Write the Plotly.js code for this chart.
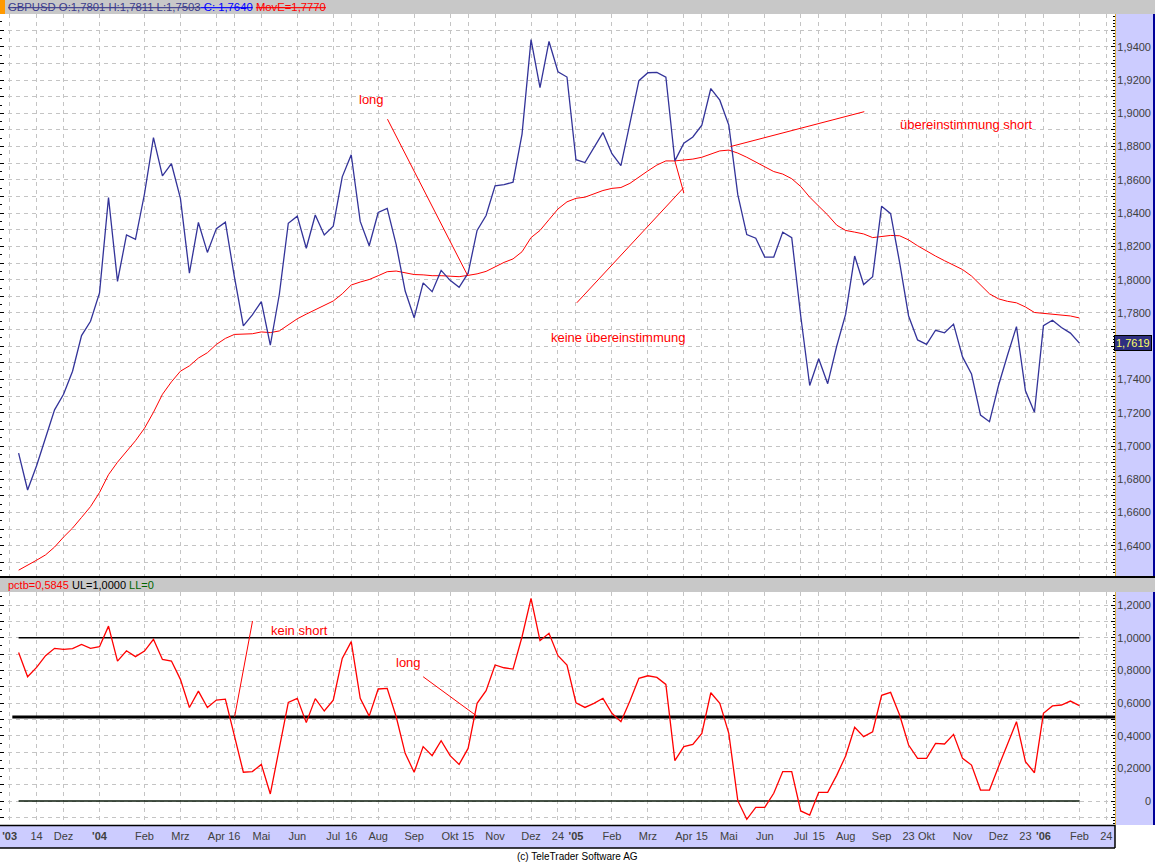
<!DOCTYPE html>
<html><head><meta charset="utf-8">
<script src="https://cdn.plot.ly/plotly-3.0.1.min.js"></script>
<style>html,body{margin:0;padding:0;background:#fff;}#chart{width:1155px;height:862px;}</style>
</head><body><div id="chart"></div>
<script>
// ---------- data ----------
const firstWeek = '2003-10-31';
const closeValues = [
1.6957,1.6736,1.6882,1.7053,1.7218,1.7311,1.7450,1.7664,1.7750,1.7921,
1.8494,1.7990,1.8269,1.8243,1.8515,1.8854,1.8624,1.8697,1.8489,1.8039,
1.8344,1.8164,1.8307,1.8346,1.8018,1.7722,1.7789,1.7868,1.7606,1.7911,
1.8339,1.8382,1.8189,1.8389,1.8269,1.8322,1.8618,1.8751,1.8350,1.8204,
1.8404,1.8429,1.8211,1.7932,1.7771,1.7981,1.7928,1.8056,1.7996,1.7954,
1.8039,1.8296,1.8386,1.8564,1.8571,1.8586,1.8875,1.9443,1.9154,1.9432,
1.9250,1.9218,1.8721,1.8704,1.8796,1.8884,1.8757,1.8686,1.8939,1.9196,
1.9244,1.9246,1.9218,1.8714,1.8821,1.8858,1.8929,1.9149,1.9079,1.8929,
1.8511,1.8271,1.8249,1.8136,1.8136,1.8286,1.8253,1.7782,1.7364,1.7525,
1.7375,1.7600,1.7793,1.8142,1.7971,1.8018,1.8442,1.8397,1.8104,1.7782,
1.7638,1.7611,1.7696,1.7681,1.7733,1.7536,1.7433,1.7186,1.7146,1.7364,
1.7546,1.7718,1.7332,1.7203,1.7724,1.7756,1.7713,1.7679,1.7619];
const movEValues = [
1.6254,1.6282,1.6314,1.6346,1.6393,1.6453,1.6507,1.6571,1.6636,1.6721,
1.6828,1.6903,1.6968,1.7032,1.7107,1.7203,1.7311,1.7386,1.7450,1.7482,
1.7529,1.7561,1.7611,1.7647,1.7671,1.7671,1.7675,1.7686,1.7682,1.7692,
1.7728,1.7765,1.7793,1.7821,1.7846,1.7872,1.7915,1.7968,1.7986,1.8001,
1.8024,1.8048,1.8052,1.8043,1.8031,1.8029,1.8024,1.8024,1.8022,1.8018,
1.8026,1.8035,1.8050,1.8078,1.8104,1.8125,1.8168,1.8253,1.8296,1.8361,
1.8425,1.8468,1.8489,1.8496,1.8517,1.8536,1.8549,1.8554,1.8579,1.8618,
1.8654,1.8689,1.8714,1.8714,1.8719,1.8725,1.8736,1.8757,1.8774,1.8779,
1.8761,1.8736,1.8708,1.8682,1.8650,1.8635,1.8607,1.8560,1.8496,1.8442,
1.8389,1.8328,1.8296,1.8286,1.8275,1.8253,1.8260,1.8266,1.8264,1.8239,
1.8204,1.8172,1.8142,1.8114,1.8089,1.8061,1.8022,1.7971,1.7915,1.7885,
1.7870,1.7861,1.7836,1.7803,1.7797,1.7791,1.7788,1.7782,1.7770];
const pctbValues = [
0.910,0.761,0.818,0.890,0.935,0.929,0.933,0.959,0.935,0.945,
1.071,0.857,0.920,0.884,0.918,0.990,0.867,0.857,0.745,0.573,
0.673,0.573,0.618,0.624,0.400,0.176,0.180,0.224,0.043,0.322,
0.604,0.629,0.480,0.627,0.551,0.618,0.873,0.976,0.629,0.520,
0.686,0.690,0.516,0.292,0.176,0.333,0.278,0.369,0.278,0.224,
0.322,0.598,0.676,0.833,0.816,0.808,1.006,1.241,0.982,1.027,
0.890,0.833,0.602,0.573,0.598,0.629,0.537,0.486,0.612,0.751,
0.767,0.757,0.714,0.247,0.333,0.347,0.414,0.663,0.598,0.414,
0.002,-0.112,-0.039,-0.039,0.047,0.180,0.180,-0.061,-0.086,0.053,
0.053,0.157,0.276,0.451,0.394,0.424,0.647,0.665,0.527,0.343,
0.261,0.261,0.353,0.349,0.408,0.261,0.220,0.067,0.067,0.210,
0.353,0.486,0.241,0.173,0.537,0.582,0.588,0.612,0.5845];
const upperLimit = 1.0;
const lowerLimit = 0;
const middleLine = 0.515;
const xTickDates = ['2003-10-24','2003-11-14','2003-12-05','2004-01-02','2004-02-06','2004-03-05','2004-04-02','2004-04-16',
 '2004-05-07','2004-06-04','2004-07-02','2004-07-16','2004-08-06','2004-09-03','2004-10-01','2004-10-15','2004-11-05',
 '2004-12-03','2004-12-24','2005-01-07','2005-02-04','2005-03-04','2005-04-01','2005-04-15','2005-05-06','2005-06-03',
 '2005-07-01','2005-07-15','2005-08-05','2005-09-02','2005-09-23','2005-10-07','2005-11-04','2005-12-02','2005-12-23',
 '2006-01-06','2006-02-03','2006-02-24'];
const xTickLabels = ["<b>'03</b>",'14','Dez',"<b>'04</b>",'Feb','Mrz','Apr','16','Mai','Jun','Jul','16','Aug','Sep','Okt','15','Nov',
 'Dez','24',"<b>'05</b>",'Feb','Mrz','Apr','15','Mai','Jun','Jul','15','Aug','Sep','23','Okt','Nov','Dez','23',
 "<b>'06</b>",'Feb','24'];
const priceTickVals = [1.64,1.66,1.68,1.70,1.72,1.74,1.76,1.78,1.80,1.82,1.84,1.86,1.88,1.90,1.92,1.94];
const priceTickText = ['1,6400','1,6600','1,6800','1,7000','1,7200','1,7400','','1,7800','1,8000','1,8200','1,8400','1,8600','1,8800','1,9000','1,9200','1,9400'];
const pctbTickVals = [0,0.2,0.4,0.6,0.8,1.0,1.2];
const pctbTickText = ['0','0,2000','0,4000','0,6000','0,8000','1,0000','1,2000'];

// ---------- helpers ----------
const W = 1155, H = 862;
const px = x => x / W, py = y => 1 - y / H;
const t0 = Date.parse(firstWeek + 'T00:00:00Z');
function weekDate(k){ return new Date(t0 + k*7*86400000).toISOString().slice(0,19).replace('T',' '); }
const dates = closeValues.map((_, i) => weekDate(i));
const n = dates.length;
const priceRange = [1.6219, 1.9597];
const pctbRange = [-0.147, 1.280];
const GRID = '#c4c4c4', DASH = '4px,4px';
const FONT = 'Liberation Sans, Arial, sans-serif';

const traces = [
 {x: dates, y: movEValues, xaxis:'x', yaxis:'y', mode:'lines', line:{color:'#ff0000', width:1}},
 {x: dates, y: closeValues, xaxis:'x', yaxis:'y', mode:'lines', line:{color:'#333399', width:1.3}},
 {x: [dates[0], dates[n-1]], y: [upperLimit, upperLimit], xaxis:'x', yaxis:'y2', mode:'lines', line:{color:'#000', width:1.4}},
 {x: [dates[0], dates[n-1]], y: [lowerLimit, lowerLimit], xaxis:'x', yaxis:'y2', mode:'lines', line:{color:'#0a1a0a', width:1.4}},
 {x: [weekDate(-0.7), weekDate(124)], y: [middleLine, middleLine], xaxis:'x', yaxis:'y2', mode:'lines', line:{color:'#000', width:3}},
 {x: dates, y: pctbValues, xaxis:'x', yaxis:'y2', mode:'lines', line:{color:'#ff0000', width:1.3}},
 {x: [], y: [], xaxis:'x', yaxis:'y3'},
 {x: [], y: [], xaxis:'x', yaxis:'y4'},
 {x: [], y: [], xaxis:'x', yaxis:'y5'},
 {x: [], y: [], xaxis:'x', yaxis:'y6'}
];
traces.forEach(t => { t.type = 'scatter'; t.showlegend = false; t.hoverinfo = 'skip'; });

const rulerMinor = (d) => ({dtick:d, ticks:'inside', ticklen:2, tickcolor:'#000', tickwidth:1, showgrid:false});
const labelAxis = (ov, rng, vals, txt) => ({overlaying:ov, anchor:'free', position:1151/W, side:'left', range:rng,
  tickmode:'array', tickvals:vals, ticktext:txt, ticks:'', showgrid:false, zeroline:false, showline:false,
  tickfont:{family:FONT, size:11, color:'#404040'}});
const rightRuler = (ov, rng, d, dm) => ({overlaying:ov, anchor:'x', side:'right', range:rng, dtick:d, tick0:0,
  ticks:'inside', ticklen:4, tickcolor:'#000', showticklabels:false, showgrid:false, zeroline:false, showline:false,
  minor: rulerMinor(dm)});

const bg = (x0,y0,x1,y1,color) => ({type:'rect', xref:'paper', yref:'paper', x0:px(x0), x1:px(x1), y0:py(y1), y1:py(y0),
  fillcolor:color, line:{width:0}, layer:'below'});
const pline = (x0,y0,x1,y1,color,w) => ({type:'line', xref:'paper', yref:'paper', x0:px(x0), x1:px(x1), y0:py(y0), y1:py(y1),
  line:{color:color, width:w}, layer:'below'});
const dline = (ya,k0,v0,k1,v1) => ({type:'line', xref:'x', yref:ya, x0:weekDate(k0), y0:v0, x1:weekDate(k1), y1:v1,
  line:{color:'#ff0000', width:1}});

const shapes = [
 bg(0,0,1155,14,'#c8c8c8'),
 bg(0,0,5,14,'#ff9900'),
 bg(0,576,1155,578,'#000000'),
 bg(0,578,1155,592,'#c8c8c8'),
 bg(1115,14,1153,576,'#ccccff'),
 bg(1115,592,1153,825,'#ccccff'),
 bg(0,826,1115,848,'#ccccff'),
 pline(1115.5,14,1115.5,576,'#e0b040',1),
 pline(1115.5,592,1115.5,825,'#e0b040',1),
 pline(1154,14,1154,576,'#000099',2),
 pline(1154,592,1154,825,'#000099',2),
 pline(0,825.5,1115,825.5,'#000',1.5),
 pline(0,848,1115,848,'#000',1.5),
 pline(1115,825,1115,848,'#000',1.5),
 dline('y',41.03,1.8965,49.98,1.8022),
 dline('y',62.09,1.7861,74.0,1.8554),
 dline('y',73.0,1.8714,74.0,1.8521),
 dline('y',79.18,1.8800,94.07,1.9010),
 dline('y2',24.03,0.516,26.02,1.102),
 dline('y2',45.0,0.761,50.97,0.520)
];

const redText = (ya,k,v,txt,anchor) => ({xref:'x', yref:ya, x:weekDate(k), y:v, text:txt, showarrow:false,
  xanchor:anchor, yanchor:'middle', font:{family:FONT, size:13, color:'#ff0000'}});
const lastClose = closeValues[n-1];
const annotations = [
 {xref:'paper', yref:'paper', x:px(6), y:py(7), xanchor:'left', yanchor:'middle', showarrow:false,
  font:{family:FONT, size:11.3},
  text:'<span style="color:#3c3c8c"><s>GBPUSD O:1,7801 H:1,7811 L:1,7503</s></span><span style="color:#0000ff"><s> C: 1,7640</s></span> <span style="color:#ff0000"><s>MovE=' + movEValues[n-1].toFixed(4).replace('.',',') + '</s></span>'},
 {xref:'paper', yref:'paper', x:px(6), y:py(585), xanchor:'left', yanchor:'middle', showarrow:false,
  font:{family:FONT, size:11},
  text:'<span style="color:#ff0000">pctb=' + pctbValues[n-1].toFixed(4).replace('.',',') + '</span><span style="color:#000000"> UL=1,0000</span><span style="color:#006600"> LL=0</span>'},
 redText('y',39.2,1.9085,'long','center'),
 redText('y',59.0,1.7653,'keine übereinstimmung','left'),
 redText('y',105.4,1.8935,'übereinstimmung short','center'),
 redText('y2',27.9,1.043,'kein short','left'),
 redText('y2',43.36,0.849,'long','center'),
 {xref:'paper', yref:'y', x:px(1152), y:lastClose, xanchor:'right', yanchor:'middle', showarrow:false,
  text:lastClose.toFixed(4).replace('.',','), bgcolor:'#2e2e80', bordercolor:'#000', borderwidth:1, borderpad:1,
  font:{family:FONT, size:11, color:'#ffff66'}},
 {xref:'paper', yref:'paper', x:0.5, y:py(856), xanchor:'center', yanchor:'middle', showarrow:false,
  text:'(c) TeleTrader Software AG', font:{family:FONT, size:10, color:'#000'}}
];

const layout = {
 width:W, height:H, margin:{l:0, r:0, t:0, b:0}, paper_bgcolor:'#ffffff', plot_bgcolor:'#ffffff', showlegend:false,
 font:{family:FONT, size:11, color:'#404040'},
 xaxis:{type:'date', domain:[0, 1115/W], range:[weekDate(-2.07), weekDate(121.96)], anchor:'y2',
  tickmode:'array', tickvals:xTickDates, ticktext:xTickLabels, ticks:'', showline:false, zeroline:false,
  showgrid:true, gridcolor:GRID, griddash:DASH, gridwidth:1, ticklabelstandoff:3,
  tickfont:{family:FONT, size:11, color:'#404040'}},
 yaxis:{domain:[py(576), py(14)], range:priceRange, anchor:'x', side:'left', dtick:0.01, tick0:0,
  ticks:'inside', ticklen:4, tickcolor:'#000', showticklabels:false, showgrid:true, gridcolor:GRID, griddash:DASH,
  zeroline:false, showline:false, minor:rulerMinor(0.005)},
 yaxis2:{domain:[py(825), py(592)], range:pctbRange, anchor:'x', side:'left', dtick:0.1, tick0:0,
  ticks:'inside', ticklen:4, tickcolor:'#000', showticklabels:false, showgrid:true, gridcolor:GRID, griddash:DASH,
  zeroline:false, showline:false, minor:rulerMinor(0.05)},
 yaxis3: labelAxis('y', priceRange, priceTickVals, priceTickText),
 yaxis4: labelAxis('y2', pctbRange, pctbTickVals, pctbTickText),
 yaxis5: rightRuler('y', priceRange, 0.01, 0.002),
 yaxis6: rightRuler('y2', pctbRange, 0.1, 0.02),
 shapes: shapes,
 annotations: annotations
};

Plotly.newPlot('chart', traces, layout, {staticPlot:true, displayModeBar:false});
</script>
</body></html>
